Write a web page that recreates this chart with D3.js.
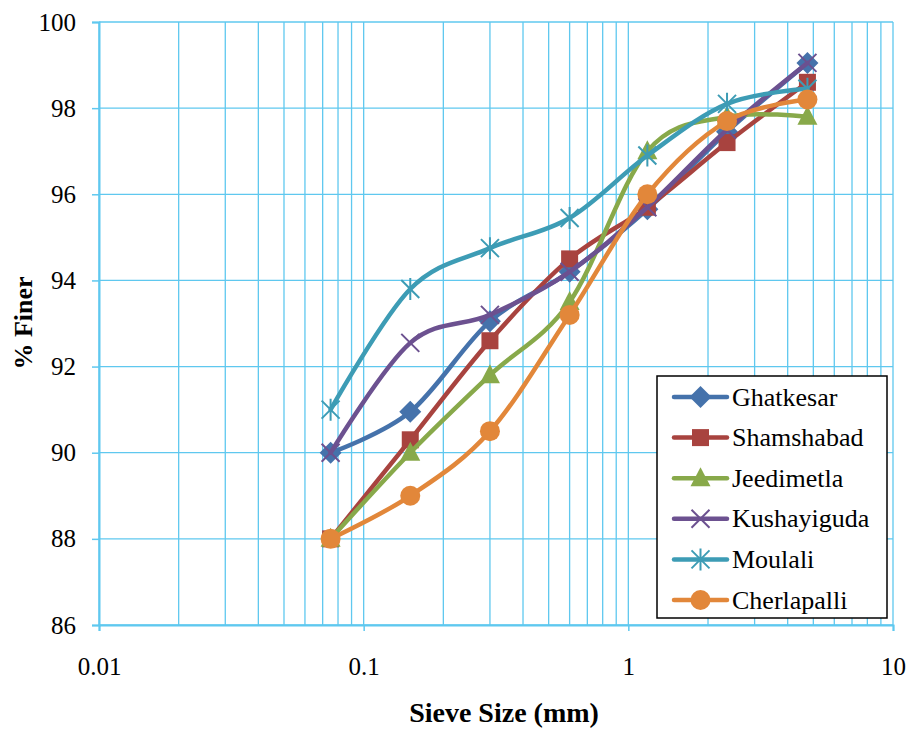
<!DOCTYPE html>
<html>
<head>
<meta charset="utf-8">
<script src="https://cdn.jsdelivr.net/npm/d3@7"></script>
<style>
  body { margin: 0; background: #fff; }
  svg text { font-family: "Liberation Serif", "Times New Roman", serif !important; }
</style>
</head>
<body>
<svg id="chart" width="909" height="729"></svg>
<script>
// Sieve sizes (mm) and % finer for each sample
var sieveSizes = [0.075, 0.15, 0.3, 0.6, 1.18, 2.36, 4.75];
var ghatkesar   = [90.0, 90.95, 93.05, 94.2, 95.65, 97.45, 99.05];
var shamshabad  = [88.0, 90.3, 92.6, 94.5, 95.7, 97.2, 98.6];
var jeedimetla  = [88.0, 90.0, 91.8, 93.5, 97.0, 97.8, 97.8];
var kushayiguda = [90.0, 92.55, 93.2, 94.2, 95.7, 97.5, 99.05];
var moulali     = [91.0, 93.8, 94.75, 95.45, 96.9, 98.1, 98.45];
var cherlapalli = [88.0, 89.0, 90.5, 93.2, 96.0, 97.7, 98.2];

var seriesNames = ["Ghatkesar", "Shamshabad", "Jeedimetla", "Kushayiguda", "Moulali", "Cherlapalli"];
var seriesValues = [ghatkesar, shamshabad, jeedimetla, kushayiguda, moulali, cherlapalli];
var seriesColors = ["#4572ab", "#a8433f", "#88a94a", "#6c5190", "#3d9cb5", "#e2873a"];
var seriesMarkers = ["diamond", "square", "triangle", "cross", "star", "circle"];

var xTickLabels = [0.01, 0.1, 1, 10];
var yTickLabels = [86, 88, 90, 92, 94, 96, 98, 100];

var gridColor = "#5fc8ef";
var serif = "Liberation Serif";

var svg = d3.select("#chart");

var x = d3.scaleLog().domain([0.01, 10]).range([99, 893]);
var y = d3.scaleLinear().domain([86, 100]).range([625, 22]);

//Vertical grid lines (log minor + major)
svg.append("g")
    .selectAll("line")
    .data(x.ticks())
    .enter().append("line")
    .attr("x1", function (d) { return x(d); })
    .attr("x2", function (d) { return x(d); })
    .attr("y1", y(100))
    .attr("y2", y(86))
    .attr("stroke", gridColor)
    .attr("stroke-width", 1.3);

//Horizontal grid lines
svg.append("g")
    .selectAll("line")
    .data(yTickLabels)
    .enter().append("line")
    .attr("x1", x(0.01))
    .attr("x2", x(10))
    .attr("y1", function (d) { return y(d); })
    .attr("y2", function (d) { return y(d); })
    .attr("stroke", gridColor)
    .attr("stroke-width", 1.3);

//Axes
var xAxis = svg.append("g")
    .attr("transform", "translate(0," + y(86) + ")")
    .call(d3.axisBottom(x).tickValues(xTickLabels).tickSize(6).tickPadding(26)
        .tickFormat(function (d) { return String(d); }));

var yAxis = svg.append("g")
    .attr("transform", "translate(" + x(0.01) + ",0)")
    .call(d3.axisLeft(y).tickValues(yTickLabels).tickSize(7).tickPadding(16));

[xAxis, yAxis].forEach(function (a) {
    a.attr("font-family", serif).attr("font-size", 25);
    a.select(".domain").attr("stroke", gridColor).attr("stroke-width", 2);
    a.selectAll(".tick line").attr("stroke", gridColor).attr("stroke-width", 1.5);
    a.selectAll(".tick text").attr("fill", "#000")
        .style("font-family", serif).style("font-size", "25px");
});

//Axis titles
svg.append("text")
    .attr("x", 504)
    .attr("y", 722)
    .attr("text-anchor", "middle")
    .style("font-family", serif)
    .style("font-size", "28px")
    .style("font-weight", "bold")
    .text("Sieve Size (mm)");

svg.append("text")
    .attr("transform", "translate(32,323) rotate(-90)")
    .attr("text-anchor", "middle")
    .style("font-family", serif)
    .style("font-size", "26px")
    .style("font-weight", "bold")
    .text("% Finer");

//Marker drawing
function drawMarker(g, type, color, cx, cy) {
    if (type === "diamond") {
        g.append("path").attr("d", "M0,-11L11,0L0,11L-11,0Z")
            .attr("transform", "translate(" + cx + "," + cy + ")")
            .attr("fill", color);
    } else if (type === "square") {
        g.append("rect").attr("x", cx - 8.5).attr("y", cy - 8.5).attr("width", 17).attr("height", 17)
            .attr("fill", color);
    } else if (type === "triangle") {
        g.append("path").attr("d", "M0,-11L10,8L-10,8Z")
            .attr("transform", "translate(" + cx + "," + cy + ")")
            .attr("fill", color);
    } else if (type === "circle") {
        g.append("circle").attr("cx", cx).attr("cy", cy).attr("r", 10).attr("fill", color);
    } else if (type === "cross") {
        g.append("path").attr("d", "M-9,-9L9,9M-9,9L9,-9")
            .attr("transform", "translate(" + cx + "," + cy + ")")
            .attr("stroke", color).attr("stroke-width", 2).attr("fill", "none");
    } else if (type === "star") {
        g.append("path").attr("d", "M-9,-9L9,9M-9,9L9,-9M0,-11L0,11")
            .attr("transform", "translate(" + cx + "," + cy + ")")
            .attr("stroke", color).attr("stroke-width", 2).attr("fill", "none");
    }
}

var line = d3.line()
    .x(function (d) { return x(d[0]); })
    .y(function (d) { return y(d[1]); })
    .curve(d3.curveCardinal.tension(0));

//Draw series
seriesValues.forEach(function (vals, i) {
    var pts = sieveSizes.map(function (s, j) { return [s, vals[j]]; });
    var g = svg.append("g");
    g.append("path")
        .datum(pts)
        .attr("d", line)
        .attr("fill", "none")
        .attr("stroke", seriesColors[i])
        .attr("stroke-width", 4.5)
        .attr("stroke-linecap", "round");
    pts.forEach(function (p) {
        drawMarker(g, seriesMarkers[i], seriesColors[i], x(p[0]), y(p[1]));
    });
});

//Legend
var legend = svg.append("g");
legend.append("rect")
    .attr("x", 657).attr("y", 376).attr("width", 230).attr("height", 242)
    .attr("fill", "#fff").attr("stroke", "#000").attr("stroke-width", 1.5);

seriesNames.forEach(function (name, i) {
    var ly = 397 + i * 40.6;
    legend.append("line")
        .attr("x1", 674).attr("x2", 727).attr("y1", ly).attr("y2", ly)
        .attr("stroke", seriesColors[i]).attr("stroke-width", 4.5).attr("stroke-linecap", "round");
    drawMarker(legend, seriesMarkers[i], seriesColors[i], 700.5, ly);
    legend.append("text")
        .attr("x", 732).attr("y", ly + 8.5)
        .style("font-family", serif)
        .style("font-size", "26px")
        .text(name);
});
</script>
</body>
</html>
